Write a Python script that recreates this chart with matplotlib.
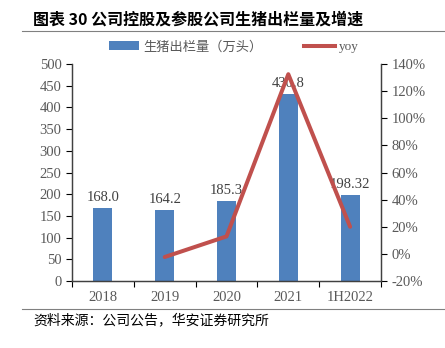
import matplotlib
matplotlib.use("Agg")
import matplotlib.pyplot as plt
from matplotlib.patches import Patch
from matplotlib.lines import Line2D
import numpy as np

# data
years = ["2018", "2019", "2020", "2021", "1H2022"]
output = [168.0, 164.2, 185.3, 430.8, 198.32]
output_labels = ["168.0", "164.2", "185.3", "430.8", "198.32"]
yoy_years = ["2019", "2020", "2021", "1H2022"]
yoy = [-2.3, 12.9, 132.5, 20.0]  # percent

bar_color = "#4F81BD"
line_color = "#C0504D"
tick_color = "#595959"
serif = ["Liberation Serif", "DejaVu Serif"]
cjk = ["Noto Sans CJK SC", "DejaVu Sans"]
serif_cjk = ["Liberation Serif", "Noto Sans CJK SC"]

fig = plt.figure(figsize=(4.45, 3.48), dpi=100)
ax = fig.add_axes([0.1618, 0.1925, 0.6944, 0.6235])
ax2 = ax.twinx()

x = np.arange(len(years))
ax.bar(x, output, width=0.31, color=bar_color, zorder=2)
for xi, v, lab in zip(x, output, output_labels):
    ax.text(xi, v + 9, lab, ha="center", va="bottom", fontsize=10.5,
            family=serif, color="#404040")

yoy_x = [years.index(y) for y in yoy_years]
ax2.plot(yoy_x, yoy, color=line_color, linewidth=2.9, solid_capstyle="round")

# left axis
ax.set_xlim(-0.5, len(years) - 0.5)
ax.set_ylim(0, 500)
ax.set_yticks(range(0, 501, 50))
# x: ticks at category boundaries, labels at centres
ax.set_xticks(np.arange(-0.5, len(years), 1.0))
ax.set_xticklabels([])
ax.set_xticks(x, minor=True)
ax.set_xticklabels(years, minor=True)
ax.tick_params(axis="x", which="minor", length=0, pad=7)
ax.tick_params(axis="x", which="major", length=4, direction="out")
ax.tick_params(axis="y", length=4, direction="out")

ax2.set_ylim(-20, 140)
ax2.set_yticks(range(-20, 141, 20))
ax2.set_yticklabels([f"{t}%" for t in range(-20, 141, 20)])
ax2.tick_params(axis="y", length=4, direction="out")

for a in (ax, ax2):
    a.spines["top"].set_visible(False)
    for s in ("left", "right", "bottom"):
        a.spines[s].set_color("#404040")
        a.spines[s].set_linewidth(0.9)
    for lab in a.get_xticklabels(which="both") + a.get_yticklabels():
        lab.set_fontfamily(serif)
        lab.set_fontsize(10.5)
        lab.set_color(tick_color)

# legend
handles = [Patch(facecolor=bar_color, edgecolor="none"),
           Line2D([0], [0], color=line_color, linewidth=2.9)]
fig.legend(handles, ["生猪出栏量（万头）", "yoy"], loc="center",
           bbox_to_anchor=(0.525, 0.865), ncol=2, frameon=False,
           handlelength=2.3, handletextpad=0.3, columnspacing=3.2,
           prop={"family": serif_cjk, "size": 9.5}, labelcolor=tick_color)

# title, rules and source
fig.text(0.074, 0.945, "图表 30 公司控股及参股公司生猪出栏量及增速",
         fontsize=11.5, fontweight="bold", family=cjk, va="center")
fig.add_artist(Line2D([0.05, 1.0], [0.912, 0.912], color="#808080", linewidth=0.8))
fig.add_artist(Line2D([0.05, 1.0], [0.112, 0.112], color="#808080", linewidth=0.8))
fig.text(0.074, 0.08, "资料来源：公司公告，华安证券研究所",
         fontsize=10, family=cjk, va="center")

fig.savefig("out.png", dpi=100)
